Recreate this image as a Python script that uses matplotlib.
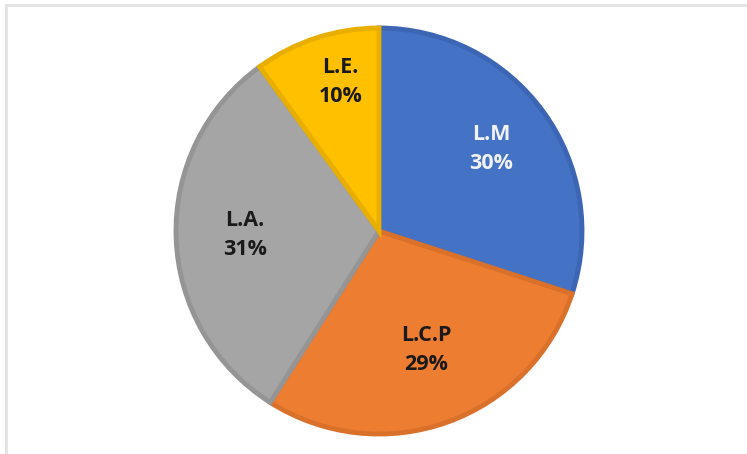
import matplotlib
matplotlib.use("Agg")
import matplotlib.pyplot as plt
import numpy as np

# slice data, clockwise from 12 o'clock
labels = ["L.M", "L.C.P", "L.A.", "L.E."]
shares = [30, 29, 31, 10]

fill_colors = ["#4472C4", "#ED7D31", "#A5A5A5", "#FFC000"]
edge_colors = ["#3C66B4", "#D9712B", "#959595", "#E8AE00"]
text_colors = ["#F2F2F2", "#1A1A1A", "#1A1A1A", "#1A1A1A"]
label_dist = [0.685, 0.63, 0.66, 0.76]
label_shift = [0.0, 2.0, 0.0, -3.5]  # degrees

plt.rcParams['font.family'] = ['Open Sans', 'DejaVu Sans']

fig = plt.figure(figsize=(7.47, 4.54), dpi=100)
ax = fig.add_axes([176 / 747, 20 / 454, 406 / 747, 406 / 454])

wedges, _ = ax.pie(shares, colors=fill_colors, startangle=90, counterclock=False,
                   radius=1.0, wedgeprops=dict(linewidth=3.5))
for w, ec in zip(wedges, edge_colors):
    w.set_edgecolor(ec)
    w.set_joinstyle("miter")

for w, lab, v, tc, d, sh in zip(wedges, labels, shares, text_colors, label_dist, label_shift):
    mid = np.deg2rad((w.theta1 + w.theta2) / 2 + sh)
    ax.text(d * np.cos(mid), d * np.sin(mid), f"{lab}\n{v}%", ha="center", va="center",
            fontsize=15.5, fontweight="bold", color=tc, linespacing=1.5)

ax.set_xlim(-1, 1)
ax.set_ylim(-1, 1)
ax.set_aspect("equal")
ax.axis("off")

# light frame lines on top and left
fig.add_artist(plt.Line2D([5.5 / 747, 5.5 / 747], [0, 1 - 4.5 / 454],
                          transform=fig.transFigure, color="#E3E3E3", lw=2))
fig.add_artist(plt.Line2D([5.5 / 747, 1], [1 - 4.5 / 454, 1 - 4.5 / 454],
                          transform=fig.transFigure, color="#E3E3E3", lw=2))

fig.savefig("out.png", dpi=100)
